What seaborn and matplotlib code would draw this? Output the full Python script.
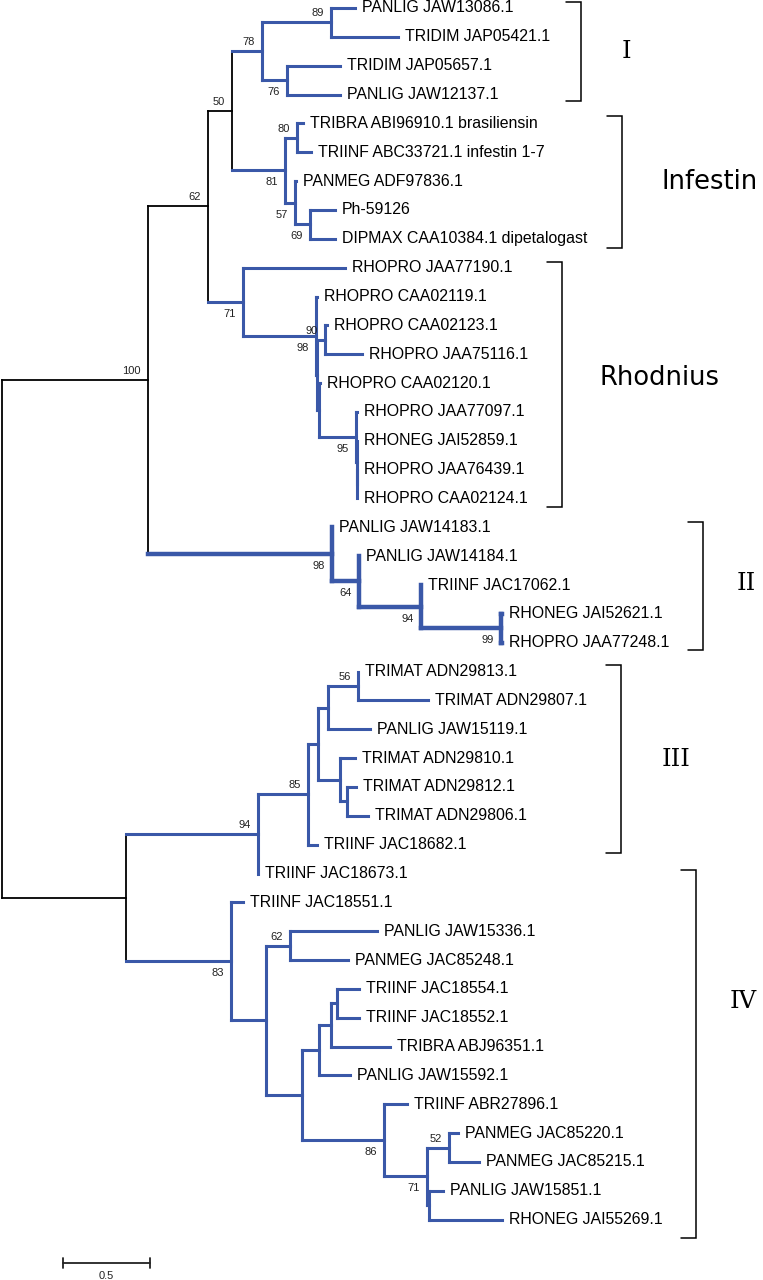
import numpy as np
import pandas as pd
import matplotlib
matplotlib.use("Agg")
import matplotlib.pyplot as plt
import seaborn as sns

# ---------------- data: tree topology (preorder), branch lengths, bootstrap ----------------
node_name = [
    "root", "n100", "n62", "n50", "n78", "n89",
    "PANLIG JAW13086.1", "TRIDIM JAP05421.1",
    "n76", "TRIDIM JAP05657.1", "PANLIG JAW12137.1",
    "n81", "n80", "TRIBRA ABI96910.1 brasiliensin", "TRIINF ABC33721.1 infestin 1-7",
    "n57", "PANMEG ADF97836.1", "n69", "Ph-59126", "DIPMAX CAA10384.1 dipetalogast",
    "n71", "RHOPRO JAA77190.1", "n98r", "RHOPRO CAA02119.1", "nr1", "n90",
    "RHOPRO CAA02123.1", "RHOPRO JAA75116.1", "nr2", "RHOPRO CAA02120.1", "n95",
    "RHOPRO JAA77097.1", "nr3", "RHONEG JAI52859.1", "nr4",
    "RHOPRO JAA76439.1", "RHOPRO CAA02124.1",
    "n98b", "PANLIG JAW14183.1", "n64", "PANLIG JAW14184.1", "n94b",
    "TRIINF JAC17062.1", "n99", "RHONEG JAI52621.1", "RHOPRO JAA77248.1",
    "n126", "n94c", "n85", "nc1", "nc2", "n56", "TRIMAT ADN29813.1",
    "TRIMAT ADN29807.1", "PANLIG JAW15119.1", "nc3", "TRIMAT ADN29810.1", "nc4",
    "TRIMAT ADN29812.1", "TRIMAT ADN29806.1", "TRIINF JAC18682.1", "TRIINF JAC18673.1",
    "n83", "TRIINF JAC18551.1", "nd1", "n62d", "PANLIG JAW15336.1", "PANMEG JAC85248.1",
    "nd2", "nd3", "nd4", "nd5", "TRIINF JAC18554.1", "TRIINF JAC18552.1",
    "TRIBRA ABJ96351.1", "PANLIG JAW15592.1", "n86", "TRIINF ABR27896.1", "n71d",
    "n52", "PANMEG JAC85220.1", "PANMEG JAC85215.1", "nd6", "PANLIG JAW15851.1",
    "RHONEG JAI55269.1",
]
node_parent = [
    None, "root", "n100", "n62", "n50", "n78",
    "n89", "n89",
    "n78", "n76", "n76",
    "n50", "n81", "n80", "n80",
    "n81", "n57", "n57", "n69", "n69",
    "n62", "n71", "n71", "n98r", "n98r", "nr1",
    "n90", "n90", "nr1", "nr2", "nr2",
    "n95", "n95", "nr3", "nr3",
    "nr4", "nr4",
    "n100", "n98b", "n98b", "n64", "n64",
    "n94b", "n94b", "n99", "n99",
    "root", "n126", "n94c", "n85", "nc1", "nc2", "n56",
    "n56", "nc2", "nc1", "nc3", "nc3",
    "nc4", "nc4", "n85", "n94c",
    "n126", "n83", "n83", "nd1", "n62d", "n62d",
    "nd1", "nd2", "nd3", "nd4", "nd5", "nd5",
    "nd4", "nd3", "nd2", "n86", "n86",
    "n71d", "n52", "n52", "n71d", "nd6",
    "nd6",
]
branch_len = [
    0.0, 0.839, 0.345, 0.138, 0.172, 0.397,
    0.138, 0.385,
    0.144, 0.305, 0.305,
    0.305, 0.069, 0.034, 0.080,
    0.057, 0.006, 0.086, 0.144, 0.144,
    0.201, 0.586, 0.420, 0.005, 0.006, 0.046,
    0.011, 0.213, 0.011, 0.006, 0.213,
    0.006, 0.003, 0.003, 0.002,
    0.003, 0.003,
    1.057, 0.0, 0.155, 0.0, 0.356,
    0.0, 0.460, 0.006, 0.006,
    0.713, 0.759, 0.287, 0.057, 0.057, 0.172, 0.0,
    0.402, 0.241, 0.126, 0.086, 0.040,
    0.052, 0.121, 0.052, 0.0,
    0.603, 0.069, 0.201, 0.138, 0.500, 0.333,
    0.207, 0.098, 0.069, 0.034, 0.126, 0.126,
    0.339, 0.178, 0.471, 0.132, 0.247,
    0.126, 0.052, 0.172, 0.011, 0.080,
    0.420,
]
support_node = ["n100", "n62", "n50", "n78", "n89", "n76", "n81", "n80", "n57", "n69",
                "n71", "n98r", "n90", "n95", "n98b", "n64", "n94b", "n99",
                "n94c", "n85", "n56", "n83", "n62d", "n86", "n71d", "n52"]
support_value = [100, 62, 50, 78, 89, 76, 81, 80, 57, 69,
                 71, 98, 90, 95, 98, 64, 94, 99,
                 94, 85, 56, 83, 62, 86, 71, 52]

clade_names = ["I", "Infestin", "Rhodnius", "II", "III", "IV"]
clade_stem = ["n78", "n81", "n71", "n98b", "n94c", "n83"]
scale_value = 0.5

# ---------------- layout (pixels -> data units) ----------------
W, H = 763, 1280
PX_X = 174.0          # pixels per unit branch length
X0 = 2.0              # root pixel x
Y0, DY = 8.0, 28.85   # first leaf pixel y, leaf spacing


def px_x(p):
    return (p - X0) / PX_X


def px_y(p):
    return (p - Y0) / DY


bracket_x_px = [581, 622, 562, 703, 621, 696]
bracket_top_px = [2, 116, 262, 522, 665, 870]
bracket_bot_px = [101, 248, 507, 650, 853, 1238]
label_xy_px = [(626, 52), (710, 182), (660, 378), (746, 583), (676, 760), (743, 1002)]
label_family = [["DejaVu Serif"], ["DejaVu Sans"], ["DejaVu Sans"],
                ["DejaVu Serif"], ["DejaVu Serif"], ["DejaVu Serif"]]
label_size = [17.5, 18.5, 18.5, 17.5, 17.5, 17.5]
thick_clade = "n98b"

BLUE = "#3a58a8"

# ---------------- compute coordinates ----------------
children = {n: [] for n in node_name}
parent_of = dict(zip(node_name, node_parent))
blen = dict(zip(node_name, branch_len))
for n, p in zip(node_name, node_parent):
    if p is not None:
        children[p].append(n)

xpos = {}
for n in node_name:
    p = parent_of[n]
    xpos[n] = 0.0 if p is None else xpos[p] + blen[n]

ypos = {}
leaf_i = 0
for n in node_name:
    if not children[n]:
        ypos[n] = leaf_i
        leaf_i += 1
for n in reversed(node_name):
    if children[n]:
        ypos[n] = 0.5 * (ypos[children[n][0]] + ypos[children[n][-1]])

style = {}
for n in node_name:
    p = parent_of[n]
    if n in clade_stem:
        style[n] = "thick" if n == thick_clade else "thin"
    elif p is not None and style[p] != "black":
        style[n] = style[p]
    else:
        style[n] = "black"

rows = []
sid = 0
for n in node_name:
    p = parent_of[n]
    if p is not None:
        rows += [(sid, xpos[p], ypos[n], style[n]), (sid, xpos[n], ypos[n], style[n])]
        sid += 1
    if children[n]:
        c0, c1 = children[n][0], children[n][-1]
        rows += [(sid, xpos[n], ypos[c0], style[n]), (sid, xpos[n], ypos[c1], style[n])]
        sid += 1
seg = pd.DataFrame(rows, columns=["seg", "x", "y", "style"])

# ---------------- draw ----------------
sns.set_theme(style="white")
plt.rcParams["font.family"] = ["Liberation Sans", "DejaVu Sans"]

fig = plt.figure(figsize=(W / 100, H / 100), dpi=100)
ax = fig.add_axes([0, 0, 1, 1])

sns.lineplot(data=seg, x="x", y="y", units="seg", estimator=None, sort=False,
             hue="style", palette={"black": "black", "thin": BLUE, "thick": BLUE},
             size="style", sizes={"black": 1.3, "thin": 2.2, "thick": 3.2},
             legend=False, ax=ax, solid_capstyle="projecting")

# leaf labels
for n in node_name:
    if not children[n]:
        ax.text(xpos[n] + 7 / PX_X, ypos[n], n, fontsize=11.4, va="center", ha="left",
                color="black")

# bootstrap labels
for n, v in zip(support_node, support_value):
    p = parent_of[n]
    upper = children[p][0] == n
    dy = -9 / DY if upper else 12 / DY
    ax.text(xpos[n] - 7 / PX_X, ypos[n] + dy, str(v), fontsize=8, ha="right",
            va="center", color="#222222")

# clade brackets and names
tick = 15 / PX_X
for name, bx, bt, bb, (lx, ly), fam, fs in zip(clade_names, bracket_x_px, bracket_top_px,
                                               bracket_bot_px, label_xy_px, label_family,
                                               label_size):
    x = px_x(bx)
    ax.plot([x - tick, x, x, x - tick], [px_y(bt), px_y(bt), px_y(bb), px_y(bb)],
            color="black", lw=1.1, solid_joinstyle="miter")
    ax.text(px_x(lx), px_y(ly), name, fontsize=fs, family=fam, ha="center",
            va="center", color="black")

# scale bar
sx0 = px_x(63)
sy = px_y(1263)
ax.plot([sx0, sx0 + scale_value], [sy, sy], color="#222222", lw=1.3)
for xx in (sx0, sx0 + scale_value):
    ax.plot([xx, xx], [sy - 5 / DY, sy + 5 / DY], color="#222222", lw=1.3)
ax.text(sx0 + scale_value / 2, px_y(1276), f"{scale_value}", fontsize=8,
        ha="center", va="center", color="#222222")

ax.set_xlim(px_x(0), px_x(W))
ax.set_ylim(px_y(H), px_y(0))
ax.axis("off")

fig.savefig("out.png", dpi=100, facecolor="white")
